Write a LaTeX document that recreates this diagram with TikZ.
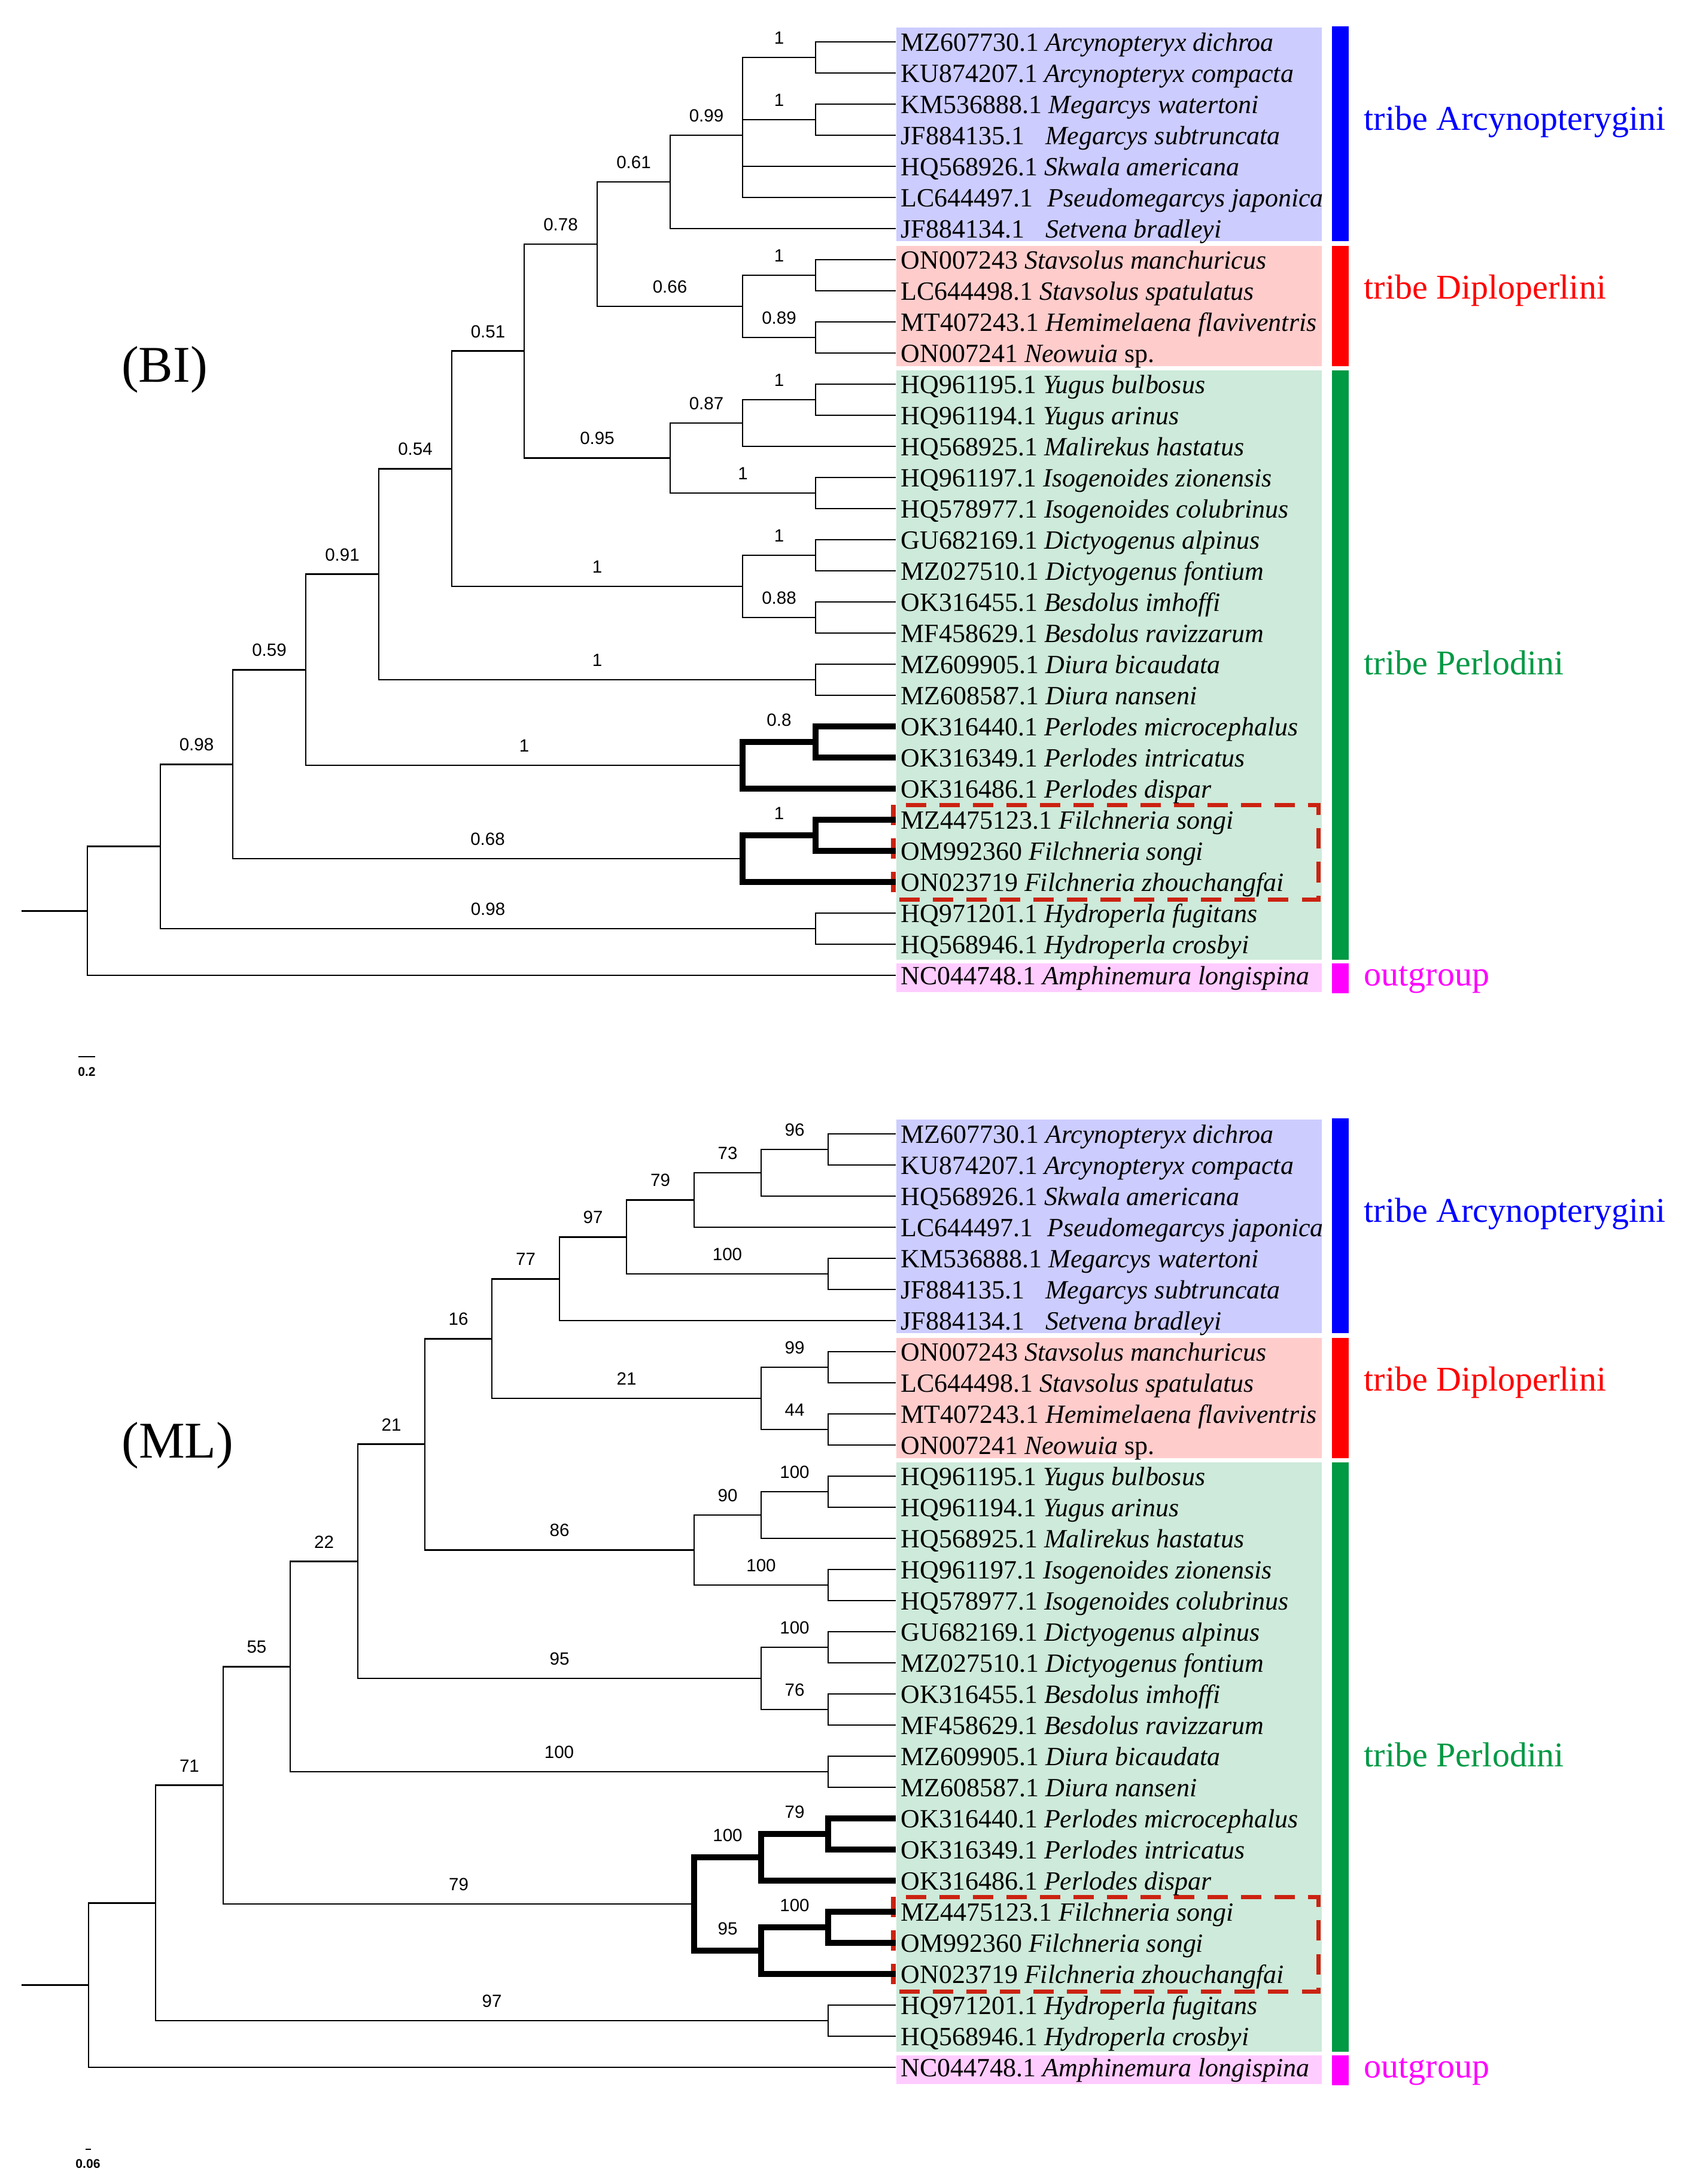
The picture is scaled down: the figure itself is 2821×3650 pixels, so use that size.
\documentclass[tikz,border=0pt]{standalone}
\usepackage{fontspec}
\setmainfont{Liberation Serif}
\newfontfamily\numfont{Liberation Sans}

\definecolor{boxA}{RGB}{204,204,255}
\definecolor{boxD}{RGB}{255,204,204}
\definecolor{boxP}{RGB}{205,234,218}
\definecolor{boxO}{RGB}{255,204,255}
\definecolor{barA}{RGB}{0,0,255}
\definecolor{barD}{RGB}{255,0,0}
\definecolor{barP}{RGB}{0,153,68}
\definecolor{barO}{RGB}{255,0,255}
\definecolor{filred}{RGB}{204,34,17}

\begin{document}
\begin{tikzpicture}[x=0.01cm,y=-0.01cm,
    leaf/.style={anchor=west,inner xsep=0.8mm,inner ysep=0,text height=4mm,text depth=1mm,
      font=\fontsize{12.5}{14}\selectfont},
    supp/.style={pos=.75,above=2.1mm,inner sep=0,font=\numfont\fontsize{8.4}{10}\selectfont},
    grp/.style={anchor=base west,inner sep=0,font=\fontsize{16.5}{19}\selectfont},
    panel/.style={anchor=base,inner sep=0,font=\fontsize{24.5}{28}\selectfont},
    scalelab/.style={inner sep=0,font=\numfont\bfseries\fontsize{6}{7}\selectfont},
    hl/.style={line width=3pt},
    filbox/.style={draw=filred,line width=2pt,dash pattern=on 3.4mm off 2.2mm}]

  \fill[white] (0,0) rectangle (2821,3650);
  \useasboundingbox (0,0) rectangle (2821,3650);

  % coloured tribe boxes and bars, BI then ML
  \foreach \dy/\t in {0/b,1825/m} {
    \fill[boxA] (1498,46+\dy) rectangle (2209,403+\dy);
    \fill[boxD] (1498,411+\dy) rectangle (2209,612+\dy);
    \fill[boxP] (1498,619+\dy) rectangle (2209,1604+\dy);
    \fill[boxO] (1498,1610+\dy) rectangle (2209,1658+\dy);
    \fill[barA] (2226,44+\dy) rectangle (2254,403+\dy);
    \fill[barD] (2226,411+\dy) rectangle (2254,612+\dy);
    \fill[barP] (2226,619+\dy) rectangle (2254,1604+\dy);
    \fill[barO] (2226,1610+\dy) rectangle (2254,1660+\dy);
    \node[grp,text=barA] (\t gA) at (2279,217+\dy) {tribe Arcynopterygini};
    \node[grp,text=barD] (\t gD) at (2279,499+\dy) {tribe Diploperlini};
    \node[grp,text=barP] (\t gP) at (2279,1127+\dy) {tribe Perlodini};
    \node[grp,text=barO] (\t gO) at (2279,1647+\dy) {outgroup};
    \draw[filbox] (1493,1345+\dy) rectangle (2203,1503+\dy);
  }

  % taxa: BI row / ML row / label
  \foreach \i/\j/\lab in {
      1/1/{MZ607730.1 \textit{Arcynopteryx dichroa}},
      2/2/{KU874207.1 \textit{Arcynopteryx compacta}},
      3/5/{KM536888.1 \textit{Megarcys watertoni}},
      4/6/{JF884135.1\hspace{.55em} \textit{Megarcys subtruncata}},
      5/3/{HQ568926.1 \textit{Skwala americana}},
      6/4/{LC644497.1\hspace{.3em} \textit{Pseudomegarcys japonica}},
      7/7/{JF884134.1\hspace{.55em} \textit{Setvena bradleyi}},
      8/8/{ON007243 \textit{Stavsolus manchuricus}},
      9/9/{LC644498.1 \textit{Stavsolus spatulatus}},
      10/10/{MT407243.1 \textit{Hemimelaena flaviventris}},
      11/11/{ON007241 \textit{Neowuia} sp.},
      12/12/{HQ961195.1 \textit{Yugus bulbosus}},
      13/13/{HQ961194.1 \textit{Yugus arinus}},
      14/14/{HQ568925.1 \textit{Malirekus hastatus}},
      15/15/{HQ961197.1 \textit{Isogenoides zionensis}},
      16/16/{HQ578977.1 \textit{Isogenoides colubrinus}},
      17/17/{GU682169.1 \textit{Dictyogenus alpinus}},
      18/18/{MZ027510.1 \textit{Dictyogenus fontium}},
      19/19/{OK316455.1 \textit{Besdolus imhoffi}},
      20/20/{MF458629.1 \textit{Besdolus ravizzarum}},
      21/21/{MZ609905.1 \textit{Diura bicaudata}},
      22/22/{MZ608587.1 \textit{Diura nanseni}},
      23/23/{OK316440.1 \textit{Perlodes microcephalus}},
      24/24/{OK316349.1 \textit{Perlodes intricatus}},
      25/25/{OK316486.1 \textit{Perlodes dispar}},
      26/26/{MZ4475123.1 \textit{Filchneria songi}},
      27/27/{OM992360 \textit{Filchneria songi}},
      28/28/{ON023719 \textit{Filchneria zhouchangfai}},
      29/29/{HQ971201.1 \textit{Hydroperla fugitans}},
      30/30/{HQ568946.1 \textit{Hydroperla crosbyi}},
      31/31/{NC044748.1 \textit{Amphinemura longispina}}} {
    \node[leaf] (b\i) at (1497,{70+52*(\i-1)}) {\lab};
    \node[leaf] (m\j) at (1497,{1895+52*(\j-1)}) {\lab};
  }

  \node[panel] (bi) at (275,638) {(BI)};
  \node[panel] (ml) at (297,2436) {(ML)};

  % scale bars
  \draw[line width=0.6pt] (131,1766) -- (159,1766);
  \node[scalelab] (sbi) at (145,1791) {0.2};
  \draw[line width=0.6pt] (143,3592) -- (152,3592);
  \node[scalelab] (sml) at (147,3616) {0.06};

  % BI tree
  \coordinate (bR0) at (36,1522.3);
  \coordinate (bR) at (146,1522.3);
  \coordinate (bN1) at (268,1414.6);
  \coordinate (b098) at (389,1277.2);
  \coordinate (b059) at (511,1119.35);
  \coordinate (b091) at (633,959.7);
  \coordinate (b054) at (755,783.4);
  \coordinate (b051) at (876,586.75);
  \coordinate (b078) at (998,408);
  \coordinate (b061) at (1120,304);
  \coordinate (b099) at (1241,226);
  \coordinate (bArc) at (1363,96);
  \coordinate (bMeg) at (1363,200);
  \coordinate (b066) at (1241,512);
  \coordinate (bSta) at (1363,460);
  \coordinate (bHem) at (1363,564);
  \coordinate (b095) at (1120,765.5);
  \coordinate (b087) at (1241,707);
  \coordinate (bYug) at (1363,668);
  \coordinate (bIso) at (1363,824);
  \coordinate (bDB) at (1241,980);
  \coordinate (bDic) at (1363,928);
  \coordinate (bBes) at (1363,1032);
  \coordinate (bDiu) at (1363,1136);
  \coordinate (bPer) at (1241,1279);
  \coordinate (bPmi) at (1363,1240);
  \coordinate (bFil) at (1241,1435);
  \coordinate (bFso) at (1363,1396);
  \coordinate (bHyd) at (1363,1552);

  % ML tree
  \coordinate (mR0) at (36,3317.7);
  \coordinate (mR) at (148,3317.7);
  \coordinate (mN1) at (260,3180.3);
  \coordinate (m071) at (373,2983.6);
  \coordinate (m055) at (485,2785.2);
  \coordinate (m022) at (598,2609.4);
  \coordinate (m021) at (710,2413.8);
  \coordinate (m016) at (822,2237.1);
  \coordinate (m077) at (935,2137.1);
  \coordinate (m097) at (1047,2067.25);
  \coordinate (m079) at (1160,2005.5);
  \coordinate (m073) at (1272,1960);
  \coordinate (mArc) at (1384,1921);
  \coordinate (mMeg) at (1384,2129);
  \coordinate (mDip) at (1272,2337);
  \coordinate (mSta) at (1384,2285);
  \coordinate (mHem) at (1384,2389);
  \coordinate (m086) at (1160,2590.5);
  \coordinate (m090) at (1272,2532);
  \coordinate (mYug) at (1384,2493);
  \coordinate (mIso) at (1384,2649);
  \coordinate (mDB) at (1272,2805);
  \coordinate (mDic) at (1384,2753);
  \coordinate (mBes) at (1384,2857);
  \coordinate (mDiu) at (1384,2961);
  \coordinate (mPF) at (1160,3182);
  \coordinate (mPer) at (1272,3104);
  \coordinate (mPmi) at (1384,3065);
  \coordinate (mFil) at (1272,3260);
  \coordinate (mFso) at (1384,3221);
  \coordinate (mHyd) at (1384,3377);

  \begin{scope}[every edge/.style={draw=black,line width=0.8pt,
      to path={|- (\tikztotarget) \tikztonodes}}]
    \draw[line width=0.8pt] (bR0) -- (bR);
    \path (bR) edge (bN1);
    \path (bR) edge (b31);
    \path (bN1) edge node[supp] {0.98} (b098);
    \path (bN1) edge node[supp] {0.98} (bHyd);
    \path (b098) edge node[supp] {0.59} (b059);
    \path (b098) edge node[supp] {0.68} (bFil);
    \path (b059) edge node[supp] {0.91} (b091);
    \path (b059) edge node[supp] {1} (bPer);
    \path (b091) edge node[supp] {0.54} (b054);
    \path (b091) edge node[supp] {1} (bDiu);
    \path (b054) edge node[supp] {0.51} (b051);
    \path (b054) edge node[supp] {1} (bDB);
    \path (b051) edge node[supp] {0.78} (b078);
    \path (b051) edge node[supp] {0.95} (b095);
    \path (b078) edge node[supp] {0.61} (b061);
    \path (b078) edge node[supp] {0.66} (b066);
    \path (b061) edge node[supp] {0.99} (b099);
    \path (b061) edge (b7);
    \path (b099) edge node[supp] {1} (bArc);
    \path (b099) edge node[supp] {1} (bMeg);
    \path (b099) edge (b5);
    \path (b099) edge (b6);
    \path (bArc) edge (b1);
    \path (bArc) edge (b2);
    \path (bMeg) edge (b3);
    \path (bMeg) edge (b4);
    \path (b066) edge node[supp] {1} (bSta);
    \path (b066) edge node[supp] {0.89} (bHem);
    \path (bSta) edge (b8);
    \path (bSta) edge (b9);
    \path (bHem) edge (b10);
    \path (bHem) edge (b11);
    \path (b095) edge node[supp] {0.87} (b087);
    \path (b095) edge node[supp] {1} (bIso);
    \path (b087) edge node[supp] {1} (bYug);
    \path (b087) edge (b14);
    \path (bYug) edge (b12);
    \path (bYug) edge (b13);
    \path (bIso) edge (b15);
    \path (bIso) edge (b16);
    \path (bDB) edge node[supp] {1} (bDic);
    \path (bDB) edge node[supp] {0.88} (bBes);
    \path (bDic) edge (b17);
    \path (bDic) edge (b18);
    \path (bBes) edge (b19);
    \path (bBes) edge (b20);
    \path (bDiu) edge (b21);
    \path (bDiu) edge (b22);
    \path (bPer) edge[hl] node[supp] {0.8} (bPmi);
    \path (bPer) edge[hl] (b25);
    \path (bPmi) edge[hl] (b23);
    \path (bPmi) edge[hl] (b24);
    \path (bFil) edge[hl] node[supp] {1} (bFso);
    \path (bFil) edge[hl] (b28);
    \path (bFso) edge[hl] (b26);
    \path (bFso) edge[hl] (b27);
    \path (bHyd) edge (b29);
    \path (bHyd) edge (b30);

    \draw[line width=0.8pt] (mR0) -- (mR);
    \path (mR) edge (mN1);
    \path (mR) edge (m31);
    \path (mN1) edge node[supp] {71} (m071);
    \path (mN1) edge node[supp] {97} (mHyd);
    \path (m071) edge node[supp] {55} (m055);
    \path (m071) edge node[supp] {79} (mPF);
    \path (m055) edge node[supp] {22} (m022);
    \path (m055) edge node[supp] {100} (mDiu);
    \path (m022) edge node[supp] {21} (m021);
    \path (m022) edge node[supp] {95} (mDB);
    \path (m021) edge node[supp] {16} (m016);
    \path (m021) edge node[supp] {86} (m086);
    \path (m016) edge node[supp] {77} (m077);
    \path (m016) edge node[supp] {21} (mDip);
    \path (m077) edge node[supp] {97} (m097);
    \path (m077) edge (m7);
    \path (m097) edge node[supp] {79} (m079);
    \path (m097) edge node[supp] {100} (mMeg);
    \path (m079) edge node[supp] {73} (m073);
    \path (m079) edge (m4);
    \path (m073) edge node[supp] {96} (mArc);
    \path (m073) edge (m3);
    \path (mArc) edge (m1);
    \path (mArc) edge (m2);
    \path (mMeg) edge (m5);
    \path (mMeg) edge (m6);
    \path (mDip) edge node[supp] {99} (mSta);
    \path (mDip) edge node[supp] {44} (mHem);
    \path (mSta) edge (m8);
    \path (mSta) edge (m9);
    \path (mHem) edge (m10);
    \path (mHem) edge (m11);
    \path (m086) edge node[supp] {90} (m090);
    \path (m086) edge node[supp] {100} (mIso);
    \path (m090) edge node[supp] {100} (mYug);
    \path (m090) edge (m14);
    \path (mYug) edge (m12);
    \path (mYug) edge (m13);
    \path (mIso) edge (m15);
    \path (mIso) edge (m16);
    \path (mDB) edge node[supp] {100} (mDic);
    \path (mDB) edge node[supp] {76} (mBes);
    \path (mDic) edge (m17);
    \path (mDic) edge (m18);
    \path (mBes) edge (m19);
    \path (mBes) edge (m20);
    \path (mDiu) edge (m21);
    \path (mDiu) edge (m22);
    \path (mPF) edge[hl] node[supp] {100} (mPer);
    \path (mPF) edge[hl] node[supp] {95} (mFil);
    \path (mPer) edge[hl] node[supp] {79} (mPmi);
    \path (mPer) edge[hl] (m25);
    \path (mPmi) edge[hl] (m23);
    \path (mPmi) edge[hl] (m24);
    \path (mFil) edge[hl] node[supp] {100} (mFso);
    \path (mFil) edge[hl] (m28);
    \path (mFso) edge[hl] (m26);
    \path (mFso) edge[hl] (m27);
    \path (mHyd) edge (m29);
    \path (mHyd) edge (m30);
  \end{scope}
\end{tikzpicture}
\end{document}
